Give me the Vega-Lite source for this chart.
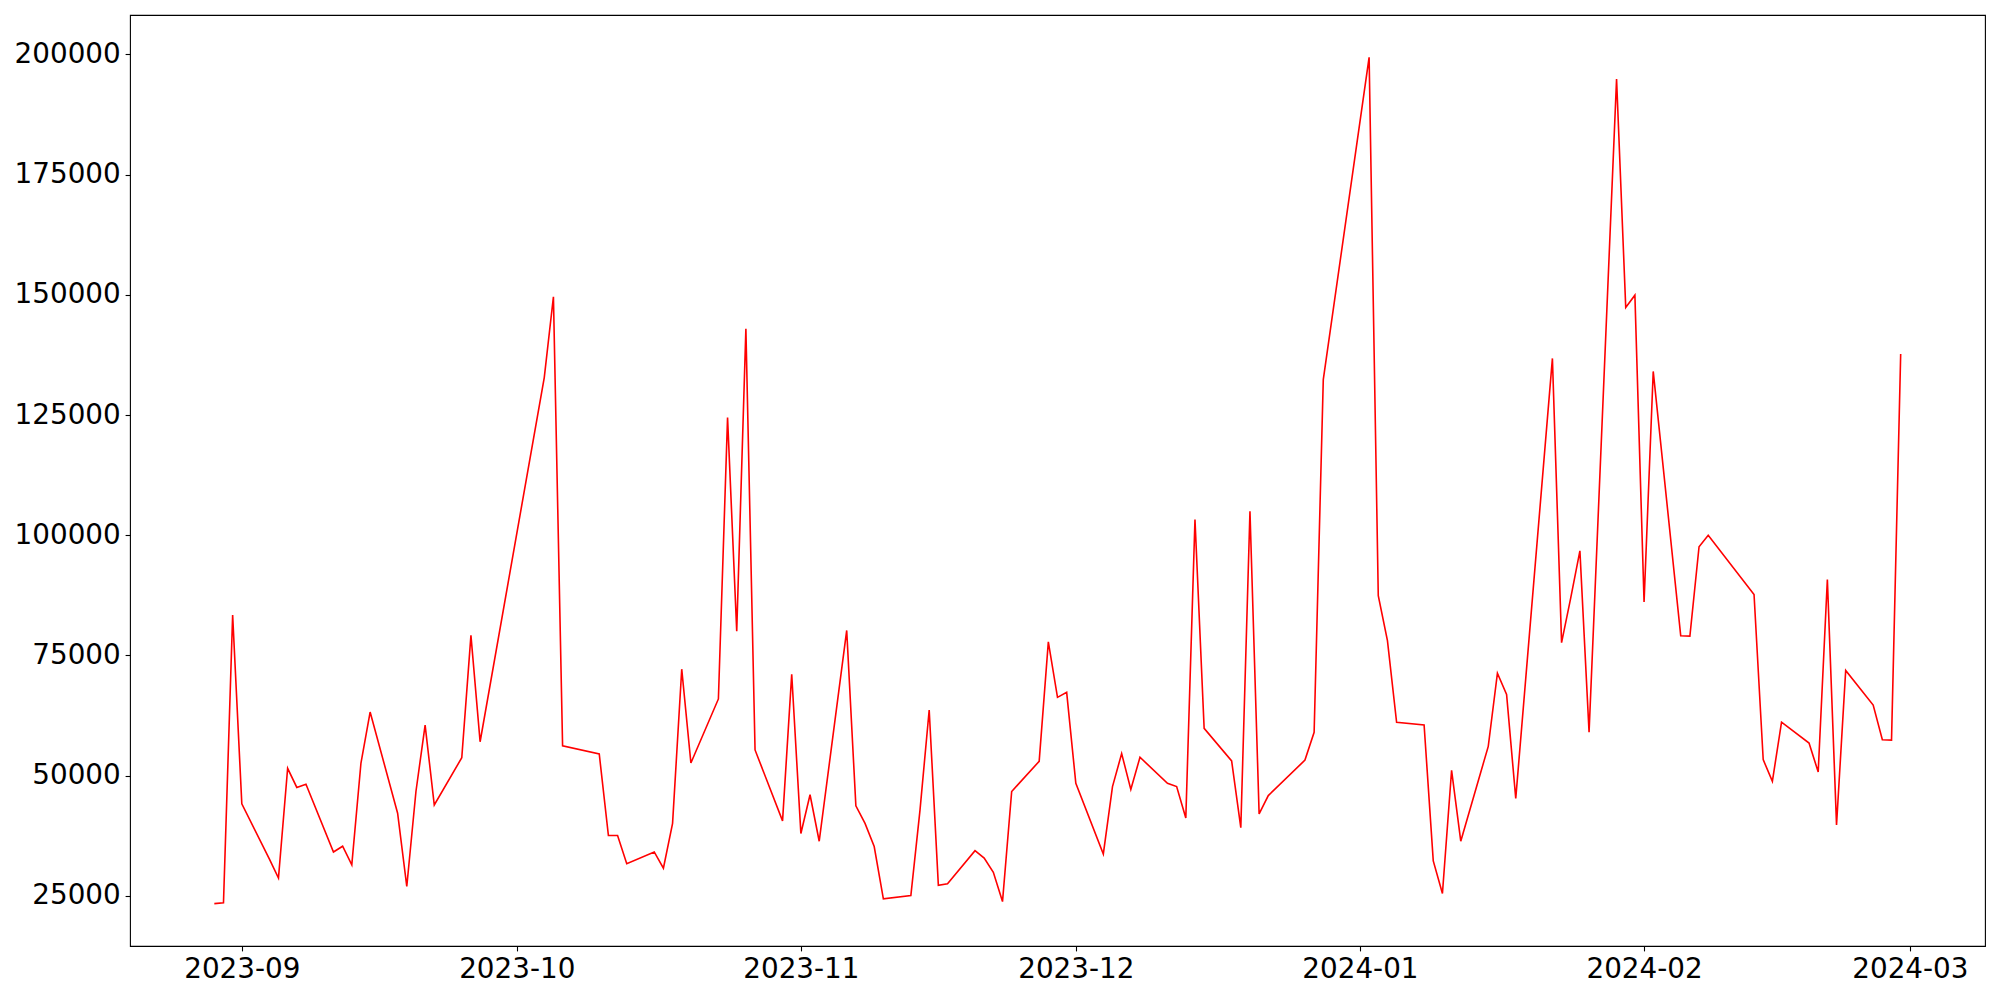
{
  "$schema": "https://vega.github.io/schema/vega-lite/v6.json",
  "autosize": {"type": "none"},
  "padding": {"left": 130, "top": 15, "right": 15, "bottom": 54},
  "width": 1855,
  "height": 931,
  "background": "white",
  "config": {
    "view": {"stroke": "black", "strokeWidth": 1.1},
    "axis": {
      "domain": false,
      "grid": false,
      "ticks": true,
      "tickColor": "black",
      "tickSize": 4.9,
      "tickWidth": 1.1,
      "labelPadding": 4.9,
      "labelFont": "DejaVu Sans",
      "labelFontSize": 27.8,
      "labelColor": "black",
      "title": null
    }
  },
  "data": {
    "values": [
      {"date": "2023-08-29T00:00:00", "value": 23400},
      {"date": "2023-08-30T00:00:00", "value": 23550},
      {"date": "2023-08-31T00:00:00", "value": 83430},
      {"date": "2023-09-01T00:00:00", "value": 44160},
      {"date": "2023-09-04T00:00:00", "value": 32700},
      {"date": "2023-09-05T00:00:00", "value": 28720},
      {"date": "2023-09-06T00:00:00", "value": 51540},
      {"date": "2023-09-07T00:00:00", "value": 47550},
      {"date": "2023-09-08T00:00:00", "value": 48230},
      {"date": "2023-09-11T00:00:00", "value": 34140},
      {"date": "2023-09-12T00:00:00", "value": 35330},
      {"date": "2023-09-13T00:00:00", "value": 31440},
      {"date": "2023-09-14T00:00:00", "value": 52640},
      {"date": "2023-09-15T00:00:00", "value": 63240},
      {"date": "2023-09-18T00:00:00", "value": 42200},
      {"date": "2023-09-19T00:00:00", "value": 26950},
      {"date": "2023-09-20T00:00:00", "value": 46710},
      {"date": "2023-09-21T00:00:00", "value": 60530},
      {"date": "2023-09-22T00:00:00", "value": 43910},
      {"date": "2023-09-25T00:00:00", "value": 53740},
      {"date": "2023-09-26T00:00:00", "value": 79190},
      {"date": "2023-09-27T00:00:00", "value": 57060},
      {"date": "2023-10-04T00:00:00", "value": 132790},
      {"date": "2023-10-05T00:00:00", "value": 149600},
      {"date": "2023-10-06T00:00:00", "value": 56210},
      {"date": "2023-10-10T00:00:00", "value": 54510},
      {"date": "2023-10-11T00:00:00", "value": 37550},
      {"date": "2023-10-12T00:00:00", "value": 37550},
      {"date": "2023-10-13T00:00:00", "value": 31690},
      {"date": "2023-10-16T00:00:00", "value": 34140},
      {"date": "2023-10-17T00:00:00", "value": 30760},
      {"date": "2023-10-18T00:00:00", "value": 40090},
      {"date": "2023-10-19T00:00:00", "value": 72150},
      {"date": "2023-10-20T00:00:00", "value": 52640},
      {"date": "2023-10-23T00:00:00", "value": 65960},
      {"date": "2023-10-24T00:00:00", "value": 124470},
      {"date": "2023-10-25T00:00:00", "value": 80050},
      {"date": "2023-10-26T00:00:00", "value": 142970},
      {"date": "2023-10-27T00:00:00", "value": 55350},
      {"date": "2023-10-30T00:00:00", "value": 40610},
      {"date": "2023-10-31T00:00:00", "value": 71110},
      {"date": "2023-11-01T00:00:00", "value": 37970},
      {"date": "2023-11-02T00:00:00", "value": 46030},
      {"date": "2023-11-03T00:00:00", "value": 36370},
      {"date": "2023-11-06T00:00:00", "value": 80200},
      {"date": "2023-11-07T00:00:00", "value": 43740},
      {"date": "2023-11-08T00:00:00", "value": 40090},
      {"date": "2023-11-09T00:00:00", "value": 35270},
      {"date": "2023-11-10T00:00:00", "value": 24400},
      {"date": "2023-11-13T00:00:00", "value": 25080},
      {"date": "2023-11-14T00:00:00", "value": 42890},
      {"date": "2023-11-15T00:00:00", "value": 63670},
      {"date": "2023-11-16T00:00:00", "value": 27200},
      {"date": "2023-11-17T00:00:00", "value": 27540},
      {"date": "2023-11-20T00:00:00", "value": 34410},
      {"date": "2023-11-21T00:00:00", "value": 32880},
      {"date": "2023-11-22T00:00:00", "value": 29920},
      {"date": "2023-11-23T00:00:00", "value": 23820},
      {"date": "2023-11-24T00:00:00", "value": 46710},
      {"date": "2023-11-27T00:00:00", "value": 52990},
      {"date": "2023-11-28T00:00:00", "value": 77840},
      {"date": "2023-11-29T00:00:00", "value": 66290},
      {"date": "2023-11-30T00:00:00", "value": 67330},
      {"date": "2023-12-01T00:00:00", "value": 48420},
      {"date": "2023-12-04T00:00:00", "value": 33720},
      {"date": "2023-12-05T00:00:00", "value": 47730},
      {"date": "2023-12-06T00:00:00", "value": 54600},
      {"date": "2023-12-07T00:00:00", "value": 47130},
      {"date": "2023-12-08T00:00:00", "value": 53830},
      {"date": "2023-12-11T00:00:00", "value": 48420},
      {"date": "2023-12-12T00:00:00", "value": 47730},
      {"date": "2023-12-13T00:00:00", "value": 41190},
      {"date": "2023-12-14T00:00:00", "value": 103280},
      {"date": "2023-12-15T00:00:00", "value": 59850},
      {"date": "2023-12-18T00:00:00", "value": 53070},
      {"date": "2023-12-19T00:00:00", "value": 39180},
      {"date": "2023-12-20T00:00:00", "value": 104980},
      {"date": "2023-12-21T00:00:00", "value": 42040},
      {"date": "2023-12-22T00:00:00", "value": 45860},
      {"date": "2023-12-26T00:00:00", "value": 53240},
      {"date": "2023-12-27T00:00:00", "value": 59020},
      {"date": "2023-12-28T00:00:00", "value": 132370},
      {"date": "2024-01-02T00:00:00", "value": 199400},
      {"date": "2024-01-03T00:00:00", "value": 87420},
      {"date": "2024-01-04T00:00:00", "value": 78090},
      {"date": "2024-01-05T00:00:00", "value": 61120},
      {"date": "2024-01-08T00:00:00", "value": 60530},
      {"date": "2024-01-09T00:00:00", "value": 32290},
      {"date": "2024-01-10T00:00:00", "value": 25500},
      {"date": "2024-01-11T00:00:00", "value": 51120},
      {"date": "2024-01-12T00:00:00", "value": 36370},
      {"date": "2024-01-15T00:00:00", "value": 56100},
      {"date": "2024-01-16T00:00:00", "value": 71300},
      {"date": "2024-01-17T00:00:00", "value": 66890},
      {"date": "2024-01-18T00:00:00", "value": 45260},
      {"date": "2024-01-22T00:00:00", "value": 136780},
      {"date": "2024-01-23T00:00:00", "value": 77660},
      {"date": "2024-01-24T00:00:00", "value": 86990},
      {"date": "2024-01-25T00:00:00", "value": 96750},
      {"date": "2024-01-26T00:00:00", "value": 59020},
      {"date": "2024-01-29T00:00:00", "value": 194870},
      {"date": "2024-01-30T00:00:00", "value": 147370},
      {"date": "2024-01-31T00:00:00", "value": 149930},
      {"date": "2024-02-01T00:00:00", "value": 86150},
      {"date": "2024-02-02T00:00:00", "value": 134070},
      {"date": "2024-02-05T00:00:00", "value": 79110},
      {"date": "2024-02-06T00:00:00", "value": 79030},
      {"date": "2024-02-07T00:00:00", "value": 97610},
      {"date": "2024-02-08T00:00:00", "value": 99980},
      {"date": "2024-02-13T00:00:00", "value": 87670},
      {"date": "2024-02-14T00:00:00", "value": 53330},
      {"date": "2024-02-15T00:00:00", "value": 48830},
      {"date": "2024-02-16T00:00:00", "value": 61120},
      {"date": "2024-02-19T00:00:00", "value": 56800},
      {"date": "2024-02-20T00:00:00", "value": 50770},
      {"date": "2024-02-21T00:00:00", "value": 90810},
      {"date": "2024-02-22T00:00:00", "value": 39750},
      {"date": "2024-02-23T00:00:00", "value": 71900},
      {"date": "2024-02-26T00:00:00", "value": 64690},
      {"date": "2024-02-27T00:00:00", "value": 57480},
      {"date": "2024-02-28T00:00:00", "value": 57390},
      {"date": "2024-02-29T00:00:00", "value": 137710}
    ]
  },
  "mark": {"type": "line", "color": "#ff0000", "strokeWidth": 1.6, "clip": true},
  "encoding": {
    "x": {
      "field": "date",
      "type": "temporal",
      "scale": {
        "domain": [
          {"year": 2023, "month": 8, "date": 19, "hours": 19, "minutes": 12},
          {"year": 2024, "month": 3, "date": 9, "hours": 4, "minutes": 48}
        ]
      },
      "axis": {
        "format": "%Y-%m",
        "values": [
          {"year": 2023, "month": 9, "date": 1},
          {"year": 2023, "month": 10, "date": 1},
          {"year": 2023, "month": 11, "date": 1},
          {"year": 2023, "month": 12, "date": 1},
          {"year": 2024, "month": 1, "date": 1},
          {"year": 2024, "month": 2, "date": 1},
          {"year": 2024, "month": 3, "date": 1}
        ],
        "labelAlign": "center",
        "labelOverlap": false
      }
    },
    "y": {
      "field": "value",
      "type": "quantitative",
      "scale": {"domain": [14580, 208200], "nice": false, "zero": false},
      "axis": {
        "values": [25000, 50000, 75000, 100000, 125000, 150000, 175000, 200000],
        "format": "d",
        "labelOverlap": false
      }
    }
  }
}
